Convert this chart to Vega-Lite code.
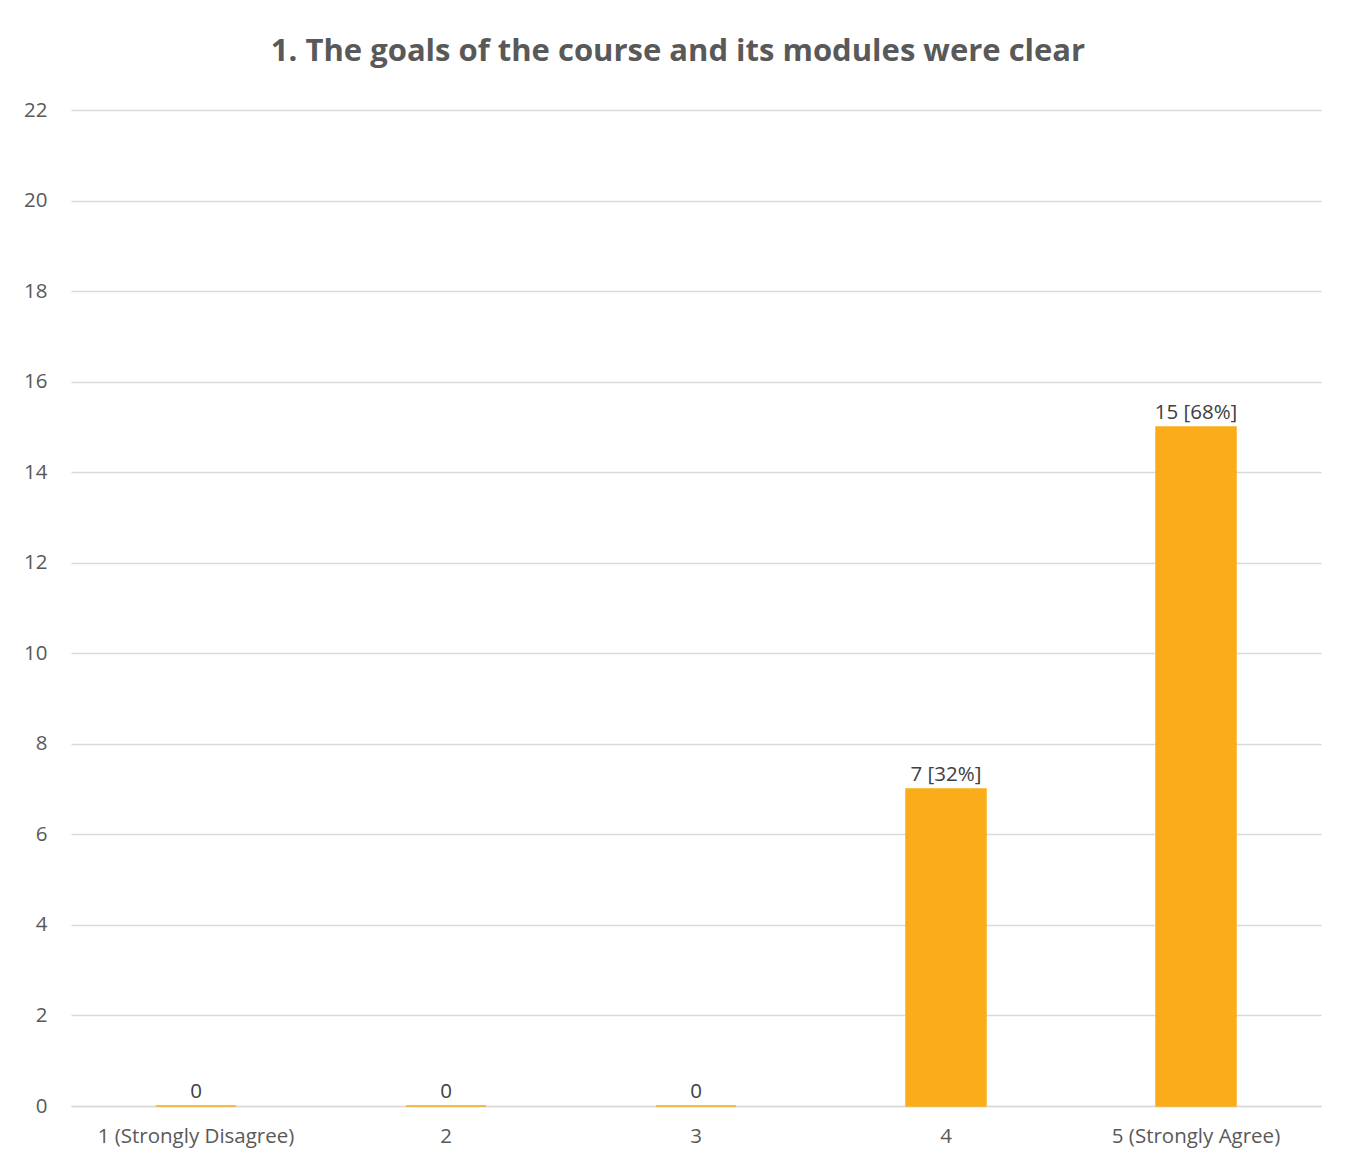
{
  "$schema": "https://vega.github.io/schema/vega-lite/v6.json",
  "autosize": "none",
  "width": 1250,
  "height": 996,
  "padding": {"left": 71, "top": 110, "right": 36, "bottom": 66},
  "background": "#ffffff",
  "config": {
    "font": "Open Sans",
    "view": {"stroke": null}
  },
  "title": {
    "text": "1. The goals of the course and its modules were clear",
    "font": "Open Sans",
    "fontSize": 31,
    "fontWeight": "bold",
    "color": "#595959",
    "anchor": "middle",
    "baseline": "alphabetic",
    "offset": 8,
    "dx": -18
  },
  "data": {
    "values": [
      {"rating": "1 (Strongly Disagree)", "count": 0, "label": "0"},
      {"rating": "2", "count": 0, "label": "0"},
      {"rating": "3", "count": 0, "label": "0"},
      {"rating": "4", "count": 7, "label": "7 [32%]"},
      {"rating": "5 (Strongly Agree)", "count": 15, "label": "15 [68%]"}
    ]
  },
  "encoding": {
    "x": {
      "field": "rating",
      "type": "nominal",
      "sort": null,
      "title": null,
      "scale": {"paddingInner": 0.68, "paddingOuter": 0.34},
      "axis": {
        "labelAngle": 0,
        "labelFontSize": 20.5,
        "labelColor": "#595959",
        "labelPadding": 20,
        "labelLimit": 0,
        "domain": true,
        "domainColor": "#d9d9d9",
        "domainWidth": 1.5,
        "ticks": false
      }
    },
    "y": {
      "field": "count",
      "type": "quantitative",
      "title": null,
      "scale": {"domain": [0, 22], "nice": false},
      "axis": {
        "values": [0, 2, 4, 6, 8, 10, 12, 14, 16, 18, 20, 22],
        "labelFontSize": 20.5,
        "labelColor": "#595959",
        "labelPadding": 24,
        "domain": false,
        "ticks": false,
        "grid": true,
        "gridColor": "#d9d9d9",
        "gridWidth": 1.5
      }
    }
  },
  "layer": [
    {
      "mark": {"type": "bar", "color": "#FAAC1A", "stroke": "#FAAC1A", "strokeWidth": 1.5}
    },
    {
      "mark": {"type": "text", "baseline": "alphabetic", "dy": -8, "fontSize": 20.5, "color": "#404040"},
      "encoding": {"text": {"field": "label"}}
    }
  ]
}
